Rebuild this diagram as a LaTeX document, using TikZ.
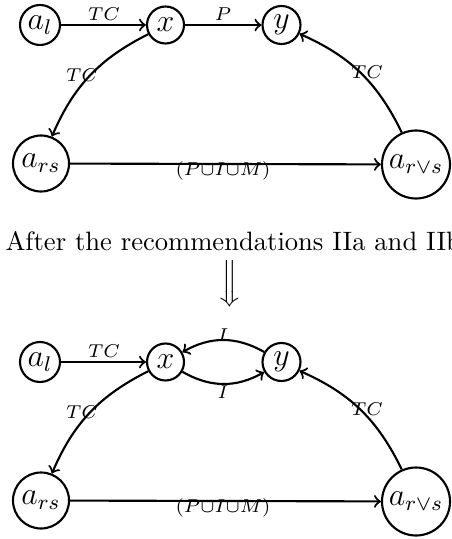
\documentclass[tikz,border=0pt]{standalone}
\usetikzlibrary{shapes.geometric}
\begin{document}
\begin{tikzpicture}[x=0.376pt,y=-0.376pt,
  st/.style={draw,circle,thick,inner sep=0pt,font=\large},
  arr/.style={thick,->},
  lbl/.style={font=\scriptsize,inner sep=1pt}]
\useasboundingbox (0,0) rectangle (451,539);
% top diagram
\node[st,minimum size=40*0.376pt] (al) at (40,25) {$a_l$};
\node[st,minimum size=37*0.376pt] (x) at (165.5,25) {$x$};
\node[st,minimum size=38*0.376pt] (y) at (281.5,25) {$y$};
\node[st,minimum size=56*0.376pt] (ars) at (41,163.5) {$a_{rs}$};
\node[st,minimum size=68*0.376pt] (arvs) at (416,164.5) {$a_{r\vee s}$};
\draw[arr] (al) -- (x);
\draw[arr] (x) -- (y);
\draw[arr] (x) to[bend right=20] (ars);
\draw[arr] (arvs) to[bend right=20] (y);
\draw[arr] (ars) -- (arvs);
\node[lbl] (l1) at (104,14) {$TC$};
\node[lbl] (l2) at (223,14) {$P$};
\node[lbl] (l3) at (82,75) {$TC$};
\node[lbl] (l4) at (367,72) {$TC$};
\node[lbl] (l5) at (223,171) {$(P{\cup}I{\cup}M)$};
% middle text
\node[anchor=base west,inner sep=0pt] (t) at (5,250) {After the recommendations IIa and IIb};
\node[inner sep=0pt] (d) at (230,284) {$\Big\Downarrow$};
% bottom diagram
\begin{scope}[shift={(0,337)}]
\node[st,minimum size=40*0.376pt] (bal) at (40,25) {$a_l$};
\node[st,minimum size=37*0.376pt] (bx) at (165.5,25) {$x$};
\node[st,minimum size=38*0.376pt] (by) at (281.5,25) {$y$};
\node[st,minimum size=56*0.376pt] (bars) at (41,163.5) {$a_{rs}$};
\node[st,minimum size=68*0.376pt] (barvs) at (416,164.5) {$a_{r\vee s}$};
\draw[arr] (bal) -- (bx);
\draw[arr] (by) to[bend right=30] (bx);
\draw[arr] (bx) to[bend right=30] (by);
\draw[arr] (bx) to[bend right=20] (bars);
\draw[arr] (barvs) to[bend right=20] (by);
\draw[arr] (bars) -- (barvs);
\node[lbl] (m1) at (104,14) {$TC$};
\node[lbl] (m2) at (223,-2) {$I$};
\node[lbl] (m3) at (223,55) {$I$};
\node[lbl] (m4) at (82,75) {$TC$};
\node[lbl] (m5) at (367,72) {$TC$};
\node[lbl] (m6) at (223,171) {$(P{\cup}I{\cup}M)$};
\end{scope}
\end{tikzpicture}
\end{document}
